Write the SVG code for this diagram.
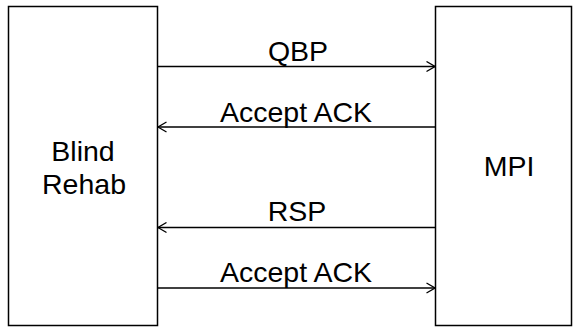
<svg xmlns="http://www.w3.org/2000/svg" width="580" height="329" viewBox="0 0 580 329">
  <style>
    .box { fill: #ffffff; stroke: #000000; stroke-width: 1.5; }
    .msg { fill: none; stroke: #000000; stroke-width: 1.3; }
    .lbl { font-family: "Liberation Sans", Arial, sans-serif; font-size: 28.5px; fill: #000000; text-anchor: middle; }
  </style>
  <defs>
    <marker id="open-arrow" viewBox="0 0 10 12" refX="9.5" refY="6" markerWidth="10" markerHeight="12" markerUnits="userSpaceOnUse" orient="auto">
      <path d="M1,1 L9.5,6 L1,11" fill="none" stroke="#000000" stroke-width="1.3"/>
    </marker>
  </defs>

  <g id="blind-rehab">
    <rect class="box" x="8.5" y="6.5" width="149" height="319"/>
    <text class="lbl" x="83" y="161">Blind</text>
    <text class="lbl" x="84" y="194">Rehab</text>
  </g>

  <g id="mpi">
    <rect class="box" x="435.5" y="6.5" width="136" height="319"/>
    <text class="lbl" x="509" y="176">MPI</text>
  </g>

  <g id="connectors">
    <line class="msg" x1="158" y1="66.5" x2="435" y2="66.5" marker-end="url(#open-arrow)"/>
    <text class="lbl" x="298" y="61">QBP</text>

    <line class="msg" x1="435" y1="127" x2="158" y2="127" marker-end="url(#open-arrow)"/>
    <text class="lbl" x="296" y="122">Accept ACK</text>

    <line class="msg" x1="435" y1="227.5" x2="158" y2="227.5" marker-end="url(#open-arrow)"/>
    <text class="lbl" x="297" y="221">RSP</text>

    <line class="msg" x1="158" y1="288" x2="435" y2="288" marker-end="url(#open-arrow)"/>
    <text class="lbl" x="296" y="282">Accept ACK</text>
  </g>
</svg>
